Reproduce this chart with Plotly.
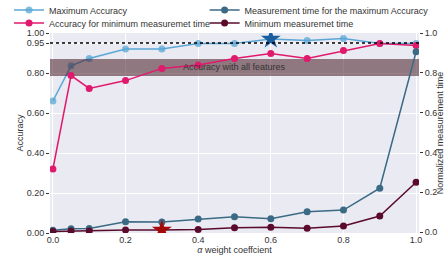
import plotly.graph_objects as go

alpha = [0.0, 0.05, 0.1, 0.2, 0.3, 0.4, 0.5, 0.6, 0.7, 0.8, 0.9, 1.0]
max_acc = [0.66, 0.836, 0.873, 0.92, 0.92, 0.948, 0.948, 0.97, 0.962, 0.972, 0.948, 0.948]
acc_min_time = [0.32, 0.787, 0.723, 0.762, 0.823, 0.84, 0.872, 0.898, 0.873, 0.912, 0.948, 0.937]
time_max_acc = [0.009, 0.016, 0.018, 0.052, 0.05, 0.065, 0.077, 0.067, 0.102, 0.11, 0.22, 0.906]
min_time = [0.003, 0.005, 0.005, 0.01, 0.01, 0.013, 0.022, 0.024, 0.019, 0.03, 0.08, 0.25]

band_low, band_high = 0.785, 0.87
ref_line = 0.95
best_acc_pt = (0.6, 0.97)
best_time_pt = (0.3, 0.01)

left_ticks = [0.0, 0.2, 0.4, 0.6, 0.8, 0.95, 1.0]
right_ticks = [0.0, 0.2, 0.4, 0.6, 0.8, 1.0]
x_ticks = [0.0, 0.2, 0.4, 0.6, 0.8, 1.0]

C_BLUE = "#5aa7d6"
C_CRIM = "#e0196c"
C_TEAL = "#3a6a84"
C_MAROON = "#5a0b2c"
FONT = "Liberation Sans, Arial, sans-serif"
TXT = "#333333"

xr = [-0.008, 1.008]

fig = go.Figure()

fig.add_trace(go.Scatter(
    x=alpha, y=max_acc, mode="lines+markers", name="Maximum Accuracy",
    line=dict(color=C_BLUE, width=1.5),
    marker=dict(color="rgba(90,167,214,0.75)", size=7),
    legend="legend"))

fig.add_trace(go.Scatter(
    x=[xr[0], xr[1], xr[1], xr[0], xr[0]],
    y=[band_low, band_low, band_high, band_high, band_low],
    mode="lines", fill="toself", fillcolor="rgba(70,25,35,0.55)",
    line=dict(width=0), hoverinfo="skip", showlegend=False))

fig.add_trace(go.Scatter(
    x=alpha, y=acc_min_time, mode="lines+markers",
    name="Accuracy for minimum measuremet time",
    line=dict(color=C_CRIM, width=1.5),
    marker=dict(color=C_CRIM, size=7),
    legend="legend2"))

fig.add_trace(go.Scatter(
    x=[best_acc_pt[0]], y=[best_acc_pt[1]], mode="markers",
    marker=dict(symbol="star", size=15, color="#1a5e9e"), showlegend=False))

fig.add_trace(go.Scatter(
    x=alpha, y=time_max_acc, mode="lines+markers", yaxis="y2",
    name="Measurement time for the maximum Accuracy",
    line=dict(color=C_TEAL, width=1.5),
    marker=dict(color=C_TEAL, size=7),
    legend="legend3"))

fig.add_trace(go.Scatter(
    x=alpha, y=min_time, mode="lines+markers", yaxis="y2",
    name="Minimum measuremet time",
    line=dict(color=C_MAROON, width=1.5),
    marker=dict(color=C_MAROON, size=7),
    legend="legend4"))

fig.add_trace(go.Scatter(
    x=[best_time_pt[0]], y=[best_time_pt[1]], mode="markers", yaxis="y2",
    marker=dict(symbol="star", size=15, color="#a50a0a"), showlegend=False))

fig.add_shape(type="line", xref="paper", x0=0, x1=1, yref="y", y0=ref_line, y1=ref_line,
              line=dict(color="black", width=1.5, dash="dot"), layer="above")

fig.add_annotation(x=0.5, y=(band_low + band_high) / 2 + 0.002, xref="x", yref="y",
                   text="Accuracy with all features", showarrow=False,
                   font=dict(size=9, color=TXT, family=FONT))

leg_common = dict(font=dict(size=9, color=TXT, family=FONT), bgcolor="rgba(0,0,0,0)",
                  xanchor="left", yanchor="middle", itemwidth=30)

fig.update_layout(
    width=445, height=261,
    margin=dict(l=50, r=26, t=33, b=28, autoexpand=False),
    paper_bgcolor="white", plot_bgcolor="#eaeaf2",
    font=dict(family=FONT, size=9, color=TXT),
    legend=dict(x=-0.111, y=1.115, **leg_common),
    legend2=dict(x=-0.111, y=1.05, **leg_common),
    legend3=dict(x=0.419, y=1.115, **leg_common),
    legend4=dict(x=0.419, y=1.05, **leg_common),
    xaxis=dict(range=xr, tickvals=x_ticks, ticktext=[f"{v:.1f}" for v in x_ticks],
               showgrid=True, gridcolor="white", gridwidth=1, zeroline=False,
               showline=False, ticks="", ticklen=0,
               title=dict(text="<i>α</i> weight coeffcient", font=dict(size=9), standoff=2)),
    yaxis=dict(range=[0, 1.0], tickvals=left_ticks, ticktext=[f"{v:.2f}" for v in left_ticks],
               showgrid=True, gridcolor="white", gridwidth=1, zeroline=False,
               ticks="outside", ticklen=3, tickcolor="#333", tickwidth=1,
               title=dict(text="Accuracy", font=dict(size=9), standoff=1)),
    yaxis2=dict(range=[-0.005, 1.0], overlaying="y", side="right",
                tickvals=right_ticks, ticktext=[f"{v:.1f}" for v in right_ticks],
                showgrid=False, zeroline=False,
                ticks="outside", ticklen=3, tickcolor="#333", tickwidth=1,
                title=dict(text="Normalized measurement time", font=dict(size=9), standoff=2)),
)

fig.write_html("out.html", config={"displayModeBar": False},
               post_script="document.body.style.margin='0px';")
